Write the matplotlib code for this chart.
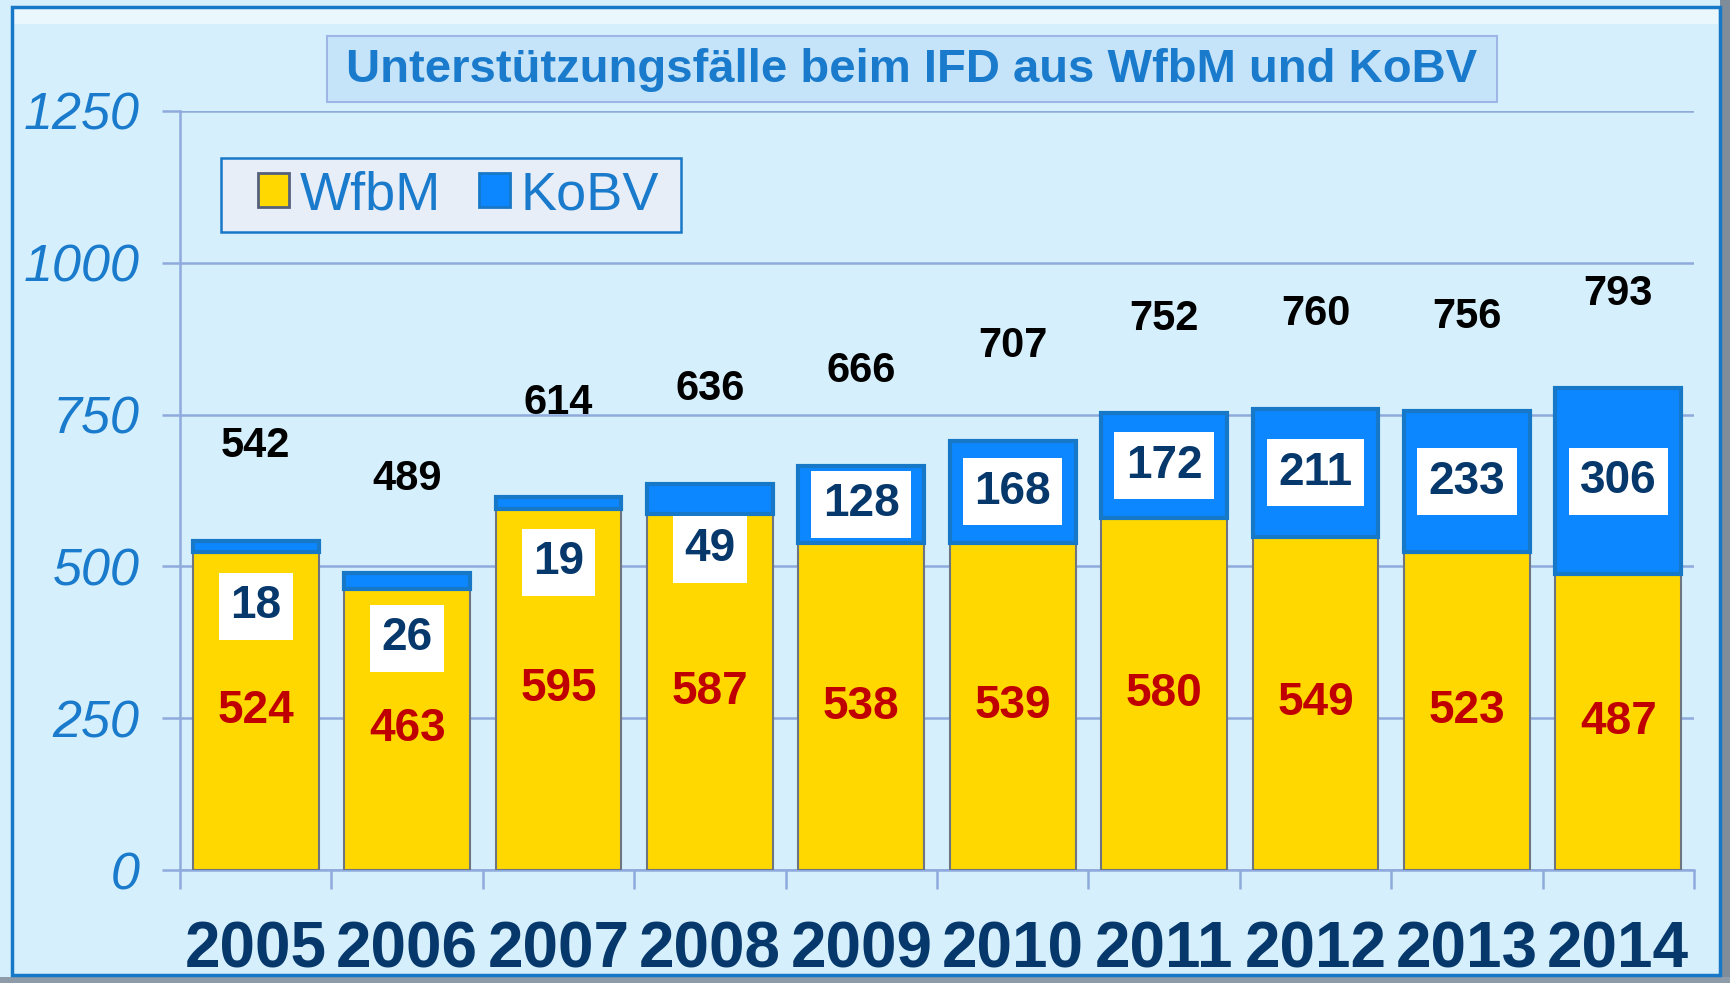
import matplotlib.pyplot as plt
from matplotlib.patches import Rectangle, Patch

plt.rcParams["font.family"] = ["Liberation Sans", "DejaVu Sans"]

# Data
years = ["2005", "2006", "2007", "2008", "2009", "2010", "2011", "2012", "2013", "2014"]
wfbm = [524, 463, 595, 587, 538, 539, 580, 549, 523, 487]
kobv = [18, 26, 19, 49, 128, 168, 172, 211, 233, 306]
totals = [542, 489, 614, 636, 666, 707, 752, 760, 756, 793]
y_ticks = [0, 250, 500, 750, 1000, 1250]

# Colors
bg = "#D5F0FC"
grid_c = "#8FAADC"
light_blue_txt = "#1A7ACB"
yellow = "#FFD800"
blue = "#0C87FF"
blue_edge = "#1878C8"
navy = "#06386C"
red = "#C00000"

W, H = 1731, 983
fig = plt.figure(figsize=(W / 100, H / 100), dpi=100)
fig.patch.set_facecolor(bg)

# Outer frame with bevel/shadow
fig.patches.append(Rectangle((1720 / W, 0), 11 / W, 1, transform=fig.transFigure,
                             facecolor="#7F8C99", edgecolor="none", zorder=0))
fig.patches.append(Rectangle((0, 0), 1, 6 / H, transform=fig.transFigure,
                             facecolor="#8E9BA8", edgecolor="none", zorder=0))
fig.patches.append(Rectangle((12 / W, 8 / H), 1708 / W, 1 - 15 / H, transform=fig.transFigure,
                             facecolor="none", edgecolor=blue_edge, lw=2.5, zorder=1))
fig.patches.append(Rectangle((14 / W, 1 - 24 / H), 1704 / W, 15 / H, transform=fig.transFigure,
                             facecolor="#EAF8FE", edgecolor="none", zorder=0))

# Axes
ax = fig.add_axes([180 / W, (H - 870) / H, 1514 / W, 759 / H])
ax.set_facecolor("none")
x = list(range(len(years)))
bw = 0.83

ax.bar(x, wfbm, width=bw, color=yellow, edgecolor="#6E7480", linewidth=1.5, zorder=3)
ax.bar(x, kobv, width=bw, bottom=wfbm, color=blue, edgecolor=blue_edge, linewidth=3, zorder=3)

ax.set_xlim(-0.5, len(years) - 0.5)
ax.set_ylim(0, 1250)
ax.set_yticks(y_ticks)
ax.set_yticklabels([str(v) for v in y_ticks], fontsize=37.5, style="italic", color=light_blue_txt)
ax.yaxis.grid(True, color=grid_c, lw=1.8, zorder=0)
ax.tick_params(axis="y", length=13, width=1.8, color=grid_c, pad=16)

ax.set_xticks(x)
ax.set_xticklabels(years, fontsize=46, fontweight="bold", color=navy)
ax.set_xticks([i - 0.5 for i in range(len(years) + 1)], minor=True)
ax.tick_params(axis="x", which="major", length=0, pad=36)
ax.tick_params(axis="x", which="minor", length=14, width=1.8, color=grid_c)

for s in ["top", "right"]:
    ax.spines[s].set_visible(False)
ax.spines["left"].set_color(grid_c)
ax.spines["left"].set_linewidth(1.8)
ax.spines["bottom"].set_color(grid_c)
ax.spines["bottom"].set_linewidth(1.8)

# Labels
box = dict(boxstyle="square,pad=0.25", facecolor="white", edgecolor="none")
for i in x:
    ax.annotate(str(totals[i]), (i, totals[i]), xytext=(0, 68), textcoords="offset points",
                ha="center", va="center", fontsize=30, fontweight="bold", color="black", zorder=5)
    ax.text(i, wfbm[i] / 2, str(wfbm[i]), ha="center", va="center", fontsize=33,
            fontweight="bold", color=red, zorder=5)
    if kobv[i] < 100:
        ax.annotate(str(kobv[i]), (i, totals[i]), xytext=(0, -47), textcoords="offset points",
                    ha="center", va="center", fontsize=33, fontweight="bold", color=navy,
                    zorder=5, bbox=box)
    else:
        ax.text(i, wfbm[i] + kobv[i] / 2, str(kobv[i]), ha="center", va="center", fontsize=33,
                fontweight="bold", color=navy, zorder=5, bbox=box)

# Title box
fig.patches.append(Rectangle((327 / W, 1 - 102 / H), 1170 / W, 66 / H, transform=fig.transFigure,
                             facecolor="#C6E4F9", edgecolor="#9DB6E6", lw=1.5, zorder=1))
fig.text(912 / W, 1 - 70 / H, "Unterstützungsfälle beim IFD aus WfbM und KoBV",
         ha="center", va="center", fontsize=34, fontweight="bold", color=light_blue_txt)

# Legend (frame drawn separately, inside the axes so the legend sits on top)
ax.add_patch(Rectangle((221 / W, 1 - 232 / H), 460 / W, 74 / H, transform=fig.transFigure,
                       facecolor="#E8EEF8", edgecolor=blue_edge, lw=1.8, zorder=4,
                       clip_on=False))
handles = [Patch(facecolor=yellow, edgecolor="#55607A", lw=2),
           Patch(facecolor=blue, edgecolor=blue_edge, lw=2)]
leg = ax.legend(handles, ["WfbM", "KoBV"], ncol=2, loc="center left",
                bbox_to_anchor=(258 / W, 1 - 195 / H), bbox_transform=fig.transFigure,
                fontsize=39, frameon=False, handlelength=0.57, handleheight=0.6,
                handletextpad=0.2, columnspacing=0.7, borderpad=0, borderaxespad=0,
                labelcolor=light_blue_txt)
leg.set_zorder(6)

fig.savefig("out.png", dpi=100, facecolor=fig.get_facecolor())
